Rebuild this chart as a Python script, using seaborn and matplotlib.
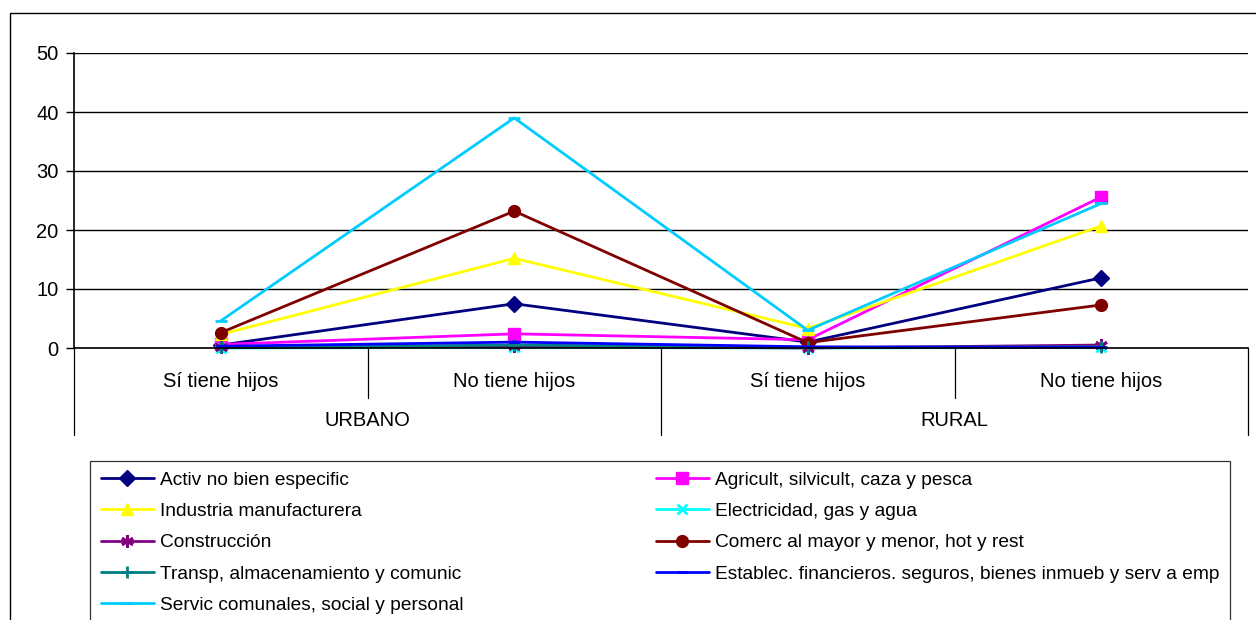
import matplotlib
matplotlib.use("Agg")
import matplotlib.pyplot as plt
from matplotlib.patches import Rectangle
import seaborn as sns
import pandas as pd

categories = ["Sí tiene hijos", "No tiene hijos", "Sí tiene hijos", "No tiene hijos"]
groups = ["URBANO", "RURAL"]

series_names = [
    "Activ no bien especific",
    "Agricult, silvicult, caza y pesca",
    "Industria manufacturera",
    "Electricidad, gas y agua",
    "Construcción",
    "Comerc al mayor y menor, hot y rest",
    "Transp, almacenamiento y comunic",
    "Establec. financieros. seguros, bienes inmueb y serv a emp",
    "Servic comunales, social y personal",
]
activ = [0.5, 7.5, 1.0, 11.9]
agric = [0.6, 2.4, 1.4, 25.6]
indus = [2.3, 15.2, 3.3, 20.7]
elec = [0.0, 0.1, 0.0, 0.1]
constr = [0.1, 0.3, 0.0, 0.5]
comerc = [2.6, 23.2, 0.9, 7.3]
transp = [0.1, 0.5, 0.1, 0.2]
establ = [0.3, 1.0, 0.2, 0.1]
servic = [4.6, 39.0, 3.0, 24.5]
values = [activ, agric, indus, elec, constr, comerc, transp, establ, servic]

colors = ["#000080", "#FF00FF", "#FFFF00", "#00FFFF", "#800080",
          "#800000", "#008080", "#0000FF", "#00CCFF"]
markers = ["D", "s", "^", "x", (6, 2, 0), "o", "+", "_", "_"]
msizes = [8, 8.5, 9, 7, 9, 8.5, 8, 7, 8]

sns.set_theme(style="white")
plt.rcParams["font.family"] = ["Liberation Sans", "DejaVu Sans"]
plt.rcParams["text.color"] = "black"
plt.rcParams["xtick.color"] = "black"
plt.rcParams["ytick.color"] = "black"

W, H = 1256, 620
fig = plt.figure(figsize=(W / 100, H / 100), dpi=100)
ax = fig.add_axes([74 / W, 1 - 348 / H, (1248 - 74) / W, (348 - 53) / H])

rows = []
for name, vals in zip(series_names, values):
    for i, v in enumerate(vals):
        rows.append({"serie": name, "x": i, "valor": v})
df = pd.DataFrame(rows)

for name, c, m, ms in zip(series_names, colors, markers, msizes):
    sub = df[df["serie"] == name]
    mew = 2 if m in ("x", "+", "_", (6, 2, 0)) else 1
    sns.lineplot(data=sub, x="x", y="valor", ax=ax, color=c, marker=m,
                 markersize=ms, markeredgecolor=c, markeredgewidth=mew,
                 linewidth=2.0, label=name, clip_on=False, legend=False)

ax.set_xlim(-0.5, 3.5)
ax.set_ylim(0, 50)
ax.set_yticks([0, 10, 20, 30, 40, 50])
ax.yaxis.grid(True, color="black", linewidth=1.0)
ax.set_axisbelow(True)
ax.tick_params(axis="y", which="both", left=True, length=6, width=1,
               color="black", labelcolor="black", pad=5, labelsize=14.5)
ax.set_xticks(range(len(categories)))
ax.set_xticklabels(categories, fontsize=14.5)
ax.tick_params(axis="x", length=0, pad=17, labelcolor="black")
ax.set_xlabel("")
ax.set_ylabel("")
for s in ["top", "right"]:
    ax.spines[s].set_visible(False)
for s in ["left", "bottom"]:
    ax.spines[s].set_color("black")
    ax.spines[s].set_linewidth(1.2)

# category separators below the axis
trans = ax.get_xaxis_transform()
axh = 348 - 53
for xb in [-0.5, 1.5, 3.5]:
    ax.plot([xb, xb], [0, -87 / axh], transform=trans, color="black",
            linewidth=0.9, clip_on=False)
for xb in [0.5, 2.5]:
    ax.plot([xb, xb], [0, -50 / axh], transform=trans, color="black",
            linewidth=0.9, clip_on=False)
for gi, g in enumerate(groups):
    ax.text(gi * 2 + 0.5, -73 / axh, g, transform=trans, ha="center",
            va="center", fontsize=14.5, color="black")

handles, labels = ax.get_legend_handles_labels()
order = [0, 2, 4, 6, 8, 1, 3, 5, 7]
leg = fig.legend([handles[i] for i in order], [labels[i] for i in order],
                 ncol=2, loc="upper left",
                 bbox_to_anchor=(90 / W, 0, (1230 - 90) / W, 1 - 461 / H),
                 mode="expand", frameon=True, fontsize=13.8, handlelength=2.8,
                 handletextpad=0.3, labelspacing=0.72, borderaxespad=0,
                 borderpad=0.55, fancybox=False, columnspacing=1.0)
leg.get_frame().set_edgecolor("black")
leg.get_frame().set_linewidth(0.9)
for t in leg.get_texts():
    t.set_color("black")

fig.patches.append(Rectangle((10 / W, -0.05), 1.0, 1.05 - 13 / H,
                             transform=fig.transFigure, fill=False,
                             edgecolor="black", linewidth=1.0))

fig.savefig("out.png", dpi=100)
